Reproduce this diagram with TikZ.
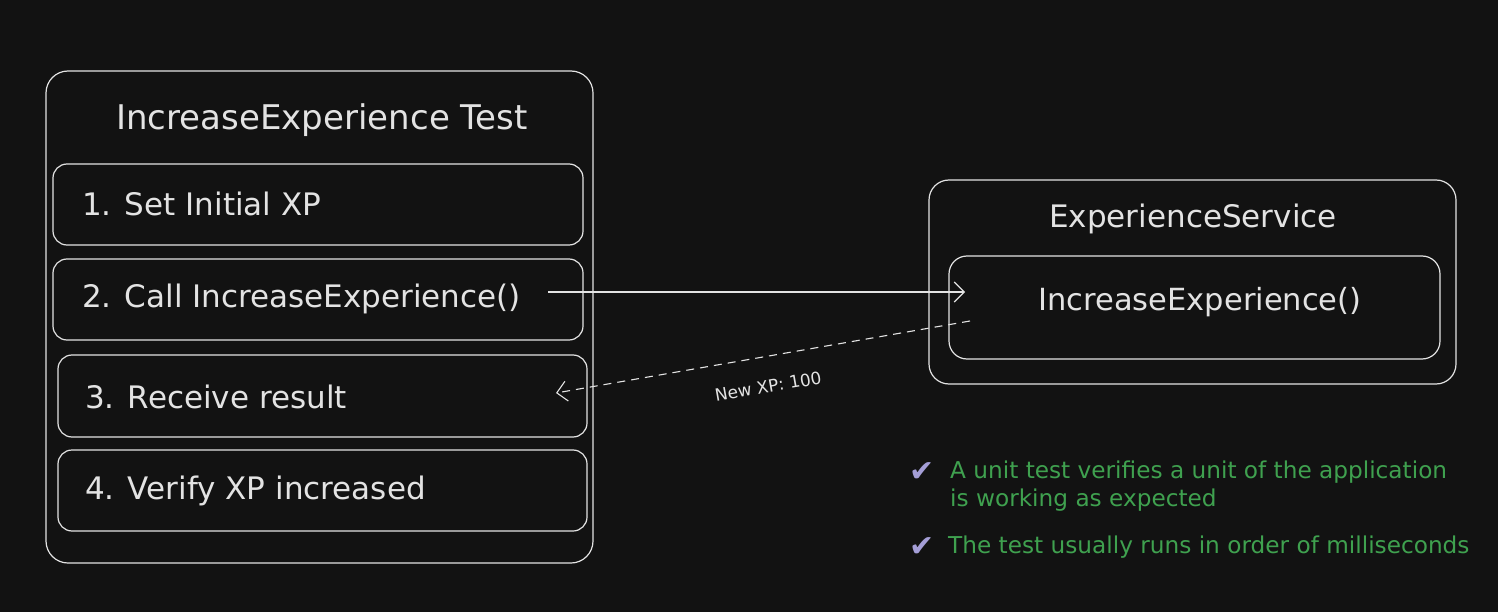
\documentclass[tikz,border=0pt]{standalone}
\usepackage{fontspec}
\setmainfont{DejaVu Sans}
\usetikzlibrary{arrows.meta,calc}
\definecolor{bg}{HTML}{121212}
\definecolor{ink}{HTML}{E3E3E3}
\definecolor{grn}{HTML}{3FA14F}
\definecolor{chk}{HTML}{A49ED6}
\begin{document}
\begin{tikzpicture}[x=1pt,y=-1pt,
  box/.style={draw=ink, line width=1.2pt, rounded corners=#1, inner sep=0pt, fill=none},
  box/.default=14pt,
  ttl/.style={text=ink, font=\fontsize{34}{40}\selectfont, inner sep=0pt},
  steptext/.style={text=ink, font=\fontsize{31}{36}\selectfont, inner sep=0pt, anchor=west},
  note/.style={text=grn, font=\fontsize{23.2}{28}\selectfont, inner sep=0pt, anchor=west, align=left},
  tick/.style={text=chk, font=\fontsize{30}{30}\selectfont, inner sep=0pt},
  conn/.style={draw=ink, line width=1.1pt, -{Straight Barb[length=10pt,width=20pt]}},
]
\fill[bg] (0,0) rectangle (1498,612);
\useasboundingbox (0,0) rectangle (1498,612);

% left group
\node[box=22pt, minimum width=547pt, minimum height=492pt] (outer) at (319.5,317) {};
\node[ttl] (title) at (322,120) {IncreaseExperience Test};
\node[box, minimum width=530pt, minimum height=81pt] (b1) at (318,204.5) {};
\node[box, minimum width=530pt, minimum height=81pt] (b2) at (318,299.5) {};
\node[box, minimum width=529pt, minimum height=82pt] (b3) at (322.5,396) {};
\node[box, minimum width=529pt, minimum height=81pt] (b4) at (322.5,490.5) {};
\node[steptext] (t1) at (82,204) {1. Set Initial XP};
\node[steptext] (t2) at (82,299) {2. Call IncreaseExperience()};
\node[steptext] (t3) at (85,397) {3. Receive result};
\node[steptext] (t4) at (85,491) {4. Verify XP increased};

% right group
\node[box=20pt, minimum width=527pt, minimum height=204pt] (svc) at (1192.5,282) {};
\node[ttl, font=\fontsize{31}{36}\selectfont] (svctitle) at (1193,219) {ExperienceService};
\node[box=18pt, minimum width=491pt, minimum height=103pt] (inner) at (1194.5,307.5) {};
\node[ttl, font=\fontsize{30.5}{36}\selectfont] (call) at (1200,302) {IncreaseExperience()};

% connectors
\coordinate (callstart) at (548,292);
\coordinate (callend) at (965,292);
\coordinate (retstart) at (970,321);
\coordinate (retend) at (556,393);
\draw[conn] (callstart) -- (callend);
\draw[conn, dash pattern=on 8pt off 6pt] (retstart) -- node[pos=0.5, below=23pt, sloped, text=ink, font=\fontsize{17}{20}\selectfont, inner sep=0pt] (lbl) {New XP: 100} (retend);

% notes
\node[tick] (c1) at (922,472) {✔};
\node[note] (n1) at (950,486) {A unit test verifies a unit of the application\\is working as expected};
\node[tick] (c2) at (922,547) {✔};
\node[note] (n2) at (948,547) {The test usually runs in order of milliseconds};
\end{tikzpicture}
\end{document}
